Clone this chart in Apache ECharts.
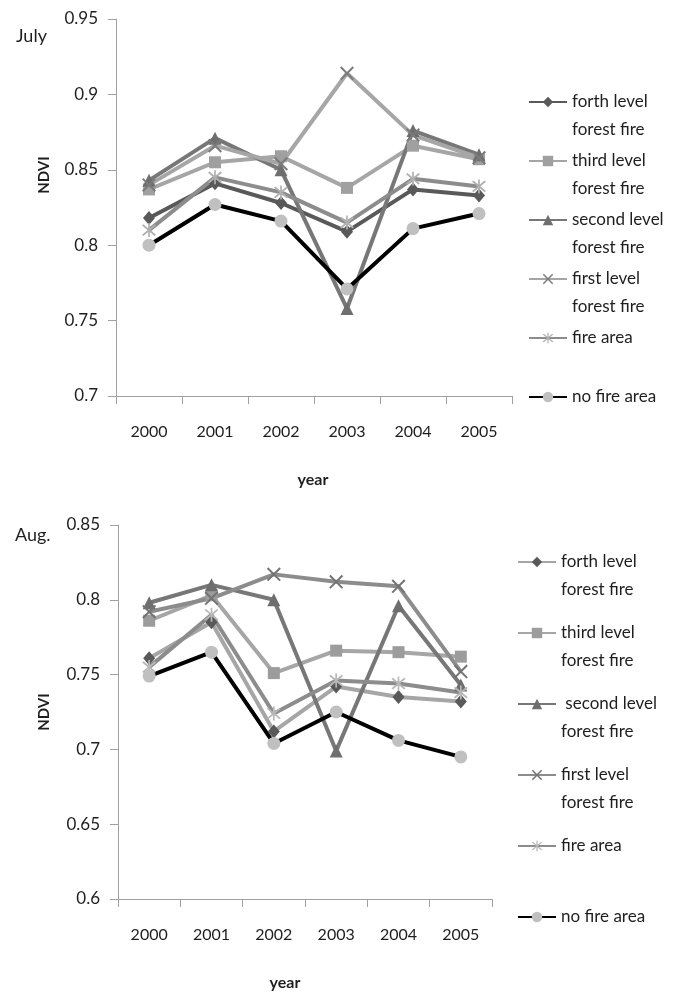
<!DOCTYPE html>
<html>
<head>
<meta charset="utf-8">
<title>NDVI by year, July and Aug.</title>
<script src="https://cdn.jsdelivr.net/npm/echarts@6/dist/echarts.min.js"></script>
<style>
  html, body { margin: 0; padding: 0; background: #fff; }
  #chart { width: 680px; height: 994px; }
</style>
</head>
<body>
<div id="chart"></div>
<script>
// categories
const years = ['2000', '2001', '2002', '2003', '2004', '2005'];

// legend texts (bottom chart has the leading space before "second level")
const julyLabels = ['forth level\nforest fire', 'third level\nforest fire', 'second level\nforest fire',
  'first level\nforest fire', 'fire area', 'no fire area'];
const augLabels = ['forth level\nforest fire', 'third level\nforest fire', ' second level\nforest fire',
  'first level\nforest fire', 'fire area', 'no fire area'];

// y axis ranges
const julyRange = [0.7, 0.95];
const augRange = [0.6, 0.85];
const yStep = 0.05;

// July NDVI
const julyForth = [0.818, 0.841, 0.828, 0.809, 0.837, 0.833];
const julyThird = [0.837, 0.855, 0.859, 0.838, 0.866, 0.857];
const julySecond = [0.843, 0.871, 0.850, 0.758, 0.876, 0.860];
const julyFirst = [0.840, 0.866, 0.854, 0.914, 0.873, 0.858];
const julyFireArea = [0.810, 0.845, 0.835, 0.815, 0.844, 0.839];
const julyNoFire = [0.800, 0.827, 0.816, 0.771, 0.811, 0.821];

// Aug. NDVI
const augForth = [0.761, 0.785, 0.712, 0.742, 0.735, 0.732];
const augThird = [0.786, 0.803, 0.751, 0.766, 0.765, 0.762];
const augSecond = [0.798, 0.810, 0.800, 0.699, 0.796, 0.743];
const augFirst = [0.792, 0.801, 0.817, 0.812, 0.809, 0.752];
const augFireArea = [0.755, 0.790, 0.724, 0.746, 0.744, 0.738];
const augNoFire = [0.749, 0.765, 0.704, 0.725, 0.706, 0.695];

const FONT = 'Lato, "Open Sans", sans-serif';
const TEXT = '#1e1e1e';
const AXIS = '#a0a0a0';

// thin cross and asterisk markers
const X_PATH = 'path://M1,0 L10,9 L9,10 L0,1 Z M9,0 L10,1 L1,10 L0,9 Z';
const STAR_PATH = 'path://M1,0 L10,9 L9,10 L0,1 Z M9,0 L10,1 L1,10 L0,9 Z M4.4,-1 L5.6,-1 L5.6,11 L4.4,11 Z';
const symbols = ['diamond', 'rect', 'triangle', X_PATH, STAR_PATH, 'circle'];
const symbolSizes = [[12, 14], 12, 13, 14, 14, 13];

const julyLine = ['#595959', '#a6a6a6', '#777777', '#a6a6a6', '#8c8c8c', '#000000'];
const julyMark = ['#595959', '#a0a0a0', '#6e6e6e', '#7a7a7a', '#b0b0b0', '#c0c0c0'];
const augLine = ['#a6a6a6', '#a6a6a6', '#777777', '#8c8c8c', '#8c8c8c', '#000000'];
const augMark = ['#595959', '#9c9c9c', '#6e6e6e', '#737373', '#b8b8b8', '#c0c0c0'];

const julyValues = [julyForth, julyThird, julySecond, julyFirst, julyFireArea, julyNoFire];
const augValues = [augForth, augThird, augSecond, augFirst, augFireArea, augNoFire];

const labelOf = {};

function makeSeries(prefix, values, labels, lineColors, markColors, idx) {
  return values.map((vals, i) => {
    labelOf[prefix + i] = labels[i];
    return {
      name: prefix + i,
      type: 'line',
      xAxisIndex: idx,
      yAxisIndex: idx,
      data: vals,
      symbol: symbols[i],
      symbolSize: symbolSizes[i],
      showAllSymbol: true,
      lineStyle: { color: lineColors[i], width: 4 },
      itemStyle: { color: markColors[i], borderWidth: 0 },
      emphasis: { disabled: true }
    };
  });
}

// every entry gets 3 text lines so the symbol sits on the first real line
function legendText(name) {
  const lab = labelOf[name];
  return lab.indexOf('\n') >= 0 ? '\n' + lab : '\n' + lab + '\n ';
}

function makeLegend(prefix, labels, left, top, gap) {
  return {
    orient: 'vertical',
    left: left,
    top: top,
    padding: 0,
    itemGap: gap,
    itemWidth: 38,
    itemHeight: 13,
    selectedMode: false,
    formatter: legendText,
    textStyle: { fontFamily: FONT, fontSize: 17, color: TEXT, lineHeight: 28 },
    data: labels.map((lab, i) => prefix + i)
  };
}

function makeXAxis(idx) {
  return {
    type: 'category',
    gridIndex: idx,
    data: years,
    boundaryGap: true,
    axisLine: { lineStyle: { color: AXIS, width: 1 } },
    axisTick: { show: true, length: 8, lineStyle: { color: AXIS } },
    axisLabel: { margin: 28, fontFamily: FONT, fontSize: 16, color: TEXT },
    splitLine: { show: false }
  };
}

function makeYAxis(idx, range) {
  return {
    type: 'value',
    gridIndex: idx,
    min: range[0],
    max: range[1],
    interval: yStep,
    axisLine: { show: true, lineStyle: { color: AXIS, width: 1 } },
    axisTick: { show: true, length: 8, lineStyle: { color: AXIS } },
    axisLabel: { margin: 18, fontFamily: FONT, fontSize: 17, color: TEXT },
    splitLine: { show: false }
  };
}

function label(text, x, y, opts) {
  return Object.assign({
    type: 'text',
    x: x,
    y: y,
    silent: true,
    style: {
      text: text,
      font: (opts && opts.font) || ('17px ' + FONT),
      fill: TEXT,
      align: (opts && opts.align) || 'center',
      verticalAlign: 'middle'
    }
  }, opts && opts.rotation ? { rotation: opts.rotation } : {});
}

const chart = echarts.init(document.getElementById('chart'), null, { renderer: 'canvas' });

const option = {
  animation: false,
  backgroundColor: '#ffffff',
  grid: [
    { left: 116, top: 19, width: 396, height: 377 },
    { left: 118, top: 525, width: 374, height: 374 }
  ],
  xAxis: [makeXAxis(0), makeXAxis(1)],
  yAxis: [makeYAxis(0, julyRange), makeYAxis(1, augRange)],
  legend: [
    makeLegend('jul', julyLabels, 528, 60, -25),
    makeLegend('aug', augLabels, 517, 520, -13)
  ],
  graphic: [
    label('July', 16, 36, { align: 'left', font: '18px ' + FONT }),
    label('Aug.', 15, 535, { align: 'left', font: '18px ' + FONT }),
    label('NDVI', 44, 175, { font: 'bold 15px ' + FONT, rotation: Math.PI / 2 }),
    label('NDVI', 44, 712, { font: 'bold 15px ' + FONT, rotation: Math.PI / 2 }),
    label('year', 313, 480, { font: 'bold 16px ' + FONT }),
    label('year', 285, 983, { font: 'bold 16px ' + FONT })
  ],
  series: [].concat(
    makeSeries('jul', julyValues, julyLabels, julyLine, julyMark, 0),
    makeSeries('aug', augValues, augLabels, augLine, augMark, 1)
  )
};

chart.setOption(option);
</script>
</body>
</html>
